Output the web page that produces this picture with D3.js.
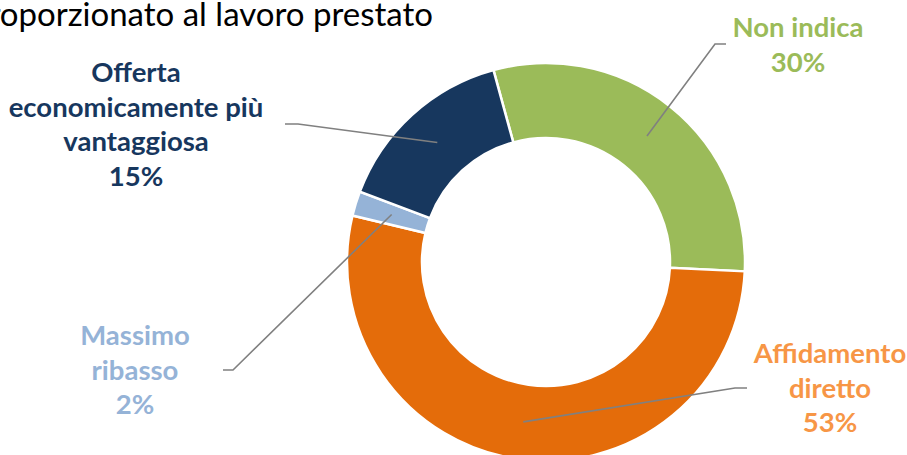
<!DOCTYPE html>
<html>
<head>
<meta charset="utf-8">
<script src="https://cdn.jsdelivr.net/npm/d3@7"></script>
<style>
  html, body { margin: 0; padding: 0; background: #fff; overflow: hidden; }
  svg { display: block; }
  text { font-family: Lato, "Open Sans", sans-serif; }
</style>
</head>
<body>
<svg id="chart" width="907" height="455"></svg>
<script>
// Award criteria breakdown (share of contracts, %)
const categories = ["Non indica", "Affidamento diretto", "Massimo ribasso", "Offerta economicamente più vantaggiosa"];
const values = [30, 53, 2, 15];
const labelLines = [
  ["Non indica"],
  ["Affidamento", "diretto"],
  ["Massimo", "ribasso"],
  ["Offerta", "economicamente più", "vantaggiosa"]
];
const sliceColors = ["#9BBB59", "#E46C0A", "#95B3D7", "#17375E"];
const textColors = ["#9BBB59", "#F79646", "#95B3D7", "#17375E"];
const titleText = "Criterio di aggiudicazione proporzionato al lavoro prestato";

const svg = d3.select("#chart");
const cx = 546, cy = 262, rOuter = 199, rInner = 124;
const startRot = -15.3 * Math.PI / 180;

// Title (runs off the left edge of the canvas)
svg.append("text")
  .attr("x", 433).attr("y", 26)
  .attr("text-anchor", "end")
  .style("font-size", "33px")
  .style("fill", "#000")
  .text(titleText);

const pie = d3.pie().sort(null).value(d => d)
  .startAngle(startRot).endAngle(startRot + 2 * Math.PI);
const arcs = pie(values);
const arc = d3.arc().innerRadius(rInner).outerRadius(rOuter);

const g = svg.append("g").attr("transform", `translate(${cx},${cy})`);
g.selectAll("path.slice")
  .data(arcs)
  .join("path")
  .attr("class", "slice")
  .attr("d", arc)
  .attr("fill", (d, i) => sliceColors[i])
  .attr("stroke", "#fff")
  .attr("stroke-width", 2.5)
  .attr("stroke-linejoin", "miter");

// Leader lines: from the slice centroid to a short horizontal stub next to the label
const elbows = [
  [[715, 44], [726, 44]],
  [[735, 388], [747, 388]],
  [[233, 370], [223, 370]],
  [[298, 124], [285, 124]]
];
const leaderPts = arcs.map((a, i) => {
  const c = arc.centroid(a);
  return [[cx + c[0], cy + c[1]], elbows[i][0], elbows[i][1]];
});
svg.selectAll("path.leader")
  .data(leaderPts)
  .join("path")
  .attr("class", "leader")
  .attr("d", d3.line())
  .attr("fill", "none")
  .attr("stroke", "#808080")
  .attr("stroke-width", 1.6);

// Data labels
const labelPos = [[798, 37], [830, 363], [135, 345], [136, 82]];
const lineGap = 34.5;
categories.forEach((c, i) => {
  const t = svg.append("text")
    .attr("text-anchor", "middle")
    .style("font-size", "27.5px")
    .style("font-weight", "bold")
    .style("fill", textColors[i]);
  const lines = labelLines[i].concat([values[i] + "%"]);
  lines.forEach((ln, k) => {
    t.append("tspan")
      .attr("x", labelPos[i][0])
      .attr("y", labelPos[i][1] + k * lineGap)
      .text(ln);
  });
});
</script>
</body>
</html>
